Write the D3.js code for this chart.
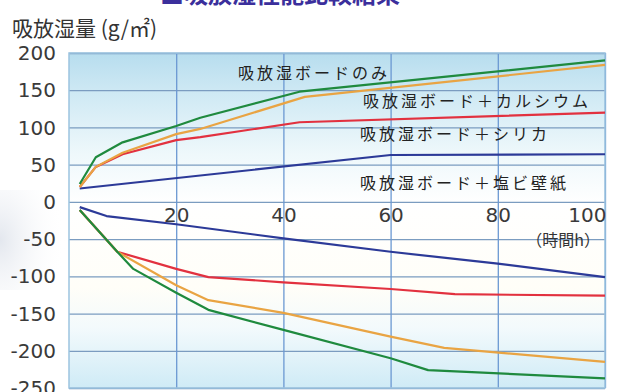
<!DOCTYPE html>
<html>
<head>
<meta charset="utf-8">
<script src="https://cdn.jsdelivr.net/npm/d3@7"></script>
<style>
  html, body { margin: 0; padding: 0; background: #ffffff; }
  svg { display: block; }
</style>
</head>
<body>
<svg id="chart" width="617" height="392"></svg>
<script>
// Hours elapsed vs. moisture absorbed (+) / released (-), g/m²
const timeTicks = [20, 40, 60, 80, 100];
const valueTicks = [200, 150, 100, 50, 0, -50, -100, -150, -200, -250];

const seriesNames = [
  "吸放湿ボードのみ",
  "吸放湿ボード＋カルシウム",
  "吸放湿ボード＋シリカ",
  "吸放湿ボード＋塩ビ壁紙"
];
const seriesColors = ["#1f8a3e", "#e9a443", "#e2313f", "#2c3a98"];

// absorption phase [hour, g/m²]
const boardOnlyAbs   = [[2, 24], [5, 60], [10, 80], [20, 102], [24.5, 113], [43, 148], [100, 190]];
const calciumAbs     = [[2, 20], [5, 47], [10, 66], [20, 91], [24.5, 98], [44, 141], [100, 184]];
const silicaAbs      = [[2, 20], [5, 47], [10, 64], [20, 83], [24.5, 87], [43, 107], [100, 120]];
const vinylAbs       = [[2, 18], [60, 63], [100, 64]];

// release phase [hour, g/m²]
const boardOnlyRel   = [[2, -11], [9, -67], [12, -90], [20, -122], [26, -145], [40, -172], [60, -210], [67, -226], [100, -237]];
const calciumRel     = [[2, -11], [9, -67], [20, -112], [26, -132], [40, -149], [60, -181], [70, -196], [100, -215]];
const silicaRel      = [[2, -11], [9, -67], [20, -90], [26, -101], [40, -108], [60, -117], [72, -124], [100, -126]];
const vinylRel       = [[2, -7], [7, -19], [20, -30], [40, -49], [60, -67], [80, -83], [100, -101]];

const absorption = [boardOnlyAbs, calciumAbs, silicaAbs, vinylAbs];
const release = [boardOnlyRel, calciumRel, silicaRel, vinylRel];

const svg = d3.select("#chart");
const plot = { left: 69, right: 605, top: 53, bottom: 388 };

const x = d3.scaleLinear().domain([0, 100]).range([plot.left, plot.right]);
const y = d3.scaleLinear().domain([-250, 200]).range([plot.bottom, plot.top]);

const defs = svg.append("defs");

// faint grey band behind the left labels
const side = defs.append("radialGradient").attr("id", "side")
  .attr("cx", "0%").attr("cy", "50%").attr("r", "100%");
side.append("stop").attr("offset", "0%").attr("stop-color", "#e3e7ee");
side.append("stop").attr("offset", "100%").attr("stop-color", "#ffffff").attr("stop-opacity", 0);
svg.append("rect").attr("x", 0).attr("y", 190).attr("width", 66).attr("height", 100).attr("fill", "url(#side)");

// plot background: pale blue at the top and bottom, near white in between
const bg = defs.append("linearGradient").attr("id", "plotBg").attr("x1", 0).attr("x2", 0).attr("y1", 0).attr("y2", 1);
[["0%", "#b7ddee"], ["12%", "#cfe9f4"], ["30%", "#eef8fb"], ["45%", "#ffffff"], ["70%", "#fffef8"], ["82%", "#f3fafc"], ["100%", "#cfebf6"]]
  .forEach(([o, c]) => bg.append("stop").attr("offset", o).attr("stop-color", c));

svg.append("rect")
  .attr("x", plot.left).attr("y", plot.top)
  .attr("width", plot.right - plot.left).attr("height", plot.bottom - plot.top)
  .attr("fill", "url(#plotBg)");

// horizontal grid
const yGrid = svg.append("g")
  .attr("transform", `translate(${plot.left},0)`)
  .call(d3.axisLeft(y).tickValues(valueTicks).tickSize(-(plot.right - plot.left)).tickFormat(""));
yGrid.select(".domain").remove();
yGrid.selectAll("line").attr("stroke", "#7b9cc0").attr("stroke-width", 1.3);

// vertical grid
const xGrid = svg.append("g")
  .attr("transform", `translate(0,${plot.bottom})`)
  .call(d3.axisBottom(x).tickValues(timeTicks).tickSize(-(plot.bottom - plot.top)).tickFormat(""));
xGrid.select(".domain").remove();
xGrid.selectAll("line").attr("stroke", "#6b98d2").attr("stroke-width", 1.3);

// frame
svg.append("rect")
  .attr("x", plot.left).attr("y", plot.top)
  .attr("width", plot.right - plot.left).attr("height", plot.bottom - plot.top)
  .attr("fill", "none").attr("stroke", "#9cc3df").attr("stroke-width", 1.5);

// value labels on the left (plain hyphen for negatives)
const yAxis = svg.append("g")
  .attr("transform", `translate(56,0)`)
  .call(d3.axisLeft(y).tickValues(valueTicks).tickSize(0).tickPadding(0).tickFormat(d => String(d)));
yAxis.select(".domain").remove();
yAxis.selectAll("text")
  .attr("font-family", "DejaVu Sans, sans-serif")
  .attr("font-size", 20)
  .attr("fill", "#3a3a3a")
  .attr("dy", "0.33em");

// hour labels along the zero line
const xAxis = svg.append("g")
  .attr("transform", `translate(0,${y(0)})`)
  .call(d3.axisBottom(x).tickValues(timeTicks).tickSize(0).tickPadding(0));
xAxis.select(".domain").remove();
xAxis.selectAll("text")
  .attr("font-family", "DejaVu Sans, sans-serif")
  .attr("font-size", 20)
  .attr("fill", "#3a3a3a")
  .attr("dy", "1.0em")
  .attr("text-anchor", d => d === 100 ? "end" : "middle")
  .attr("x", d => d === 100 ? 1 : 0);

// curves
const line = d3.line().x(d => x(d[0])).y(d => y(d[1]));
[3, 2, 1, 0].forEach(i => {
  [absorption[i], release[i]].forEach(pts => {
    svg.append("path")
      .attr("d", line(pts))
      .attr("fill", "none")
      .attr("stroke", seriesColors[i])
      .attr("stroke-width", 2.2)
      .attr("stroke-linejoin", "round");
  });
});

// series captions
const captionPos = [[238, 73], [363, 101], [360, 134], [360, 183]];
seriesNames.forEach((name, i) => {
  svg.append("text")
    .attr("x", captionPos[i][0])
    .attr("y", captionPos[i][1])
    .attr("dy", "0.36em")
    .attr("font-family", "Noto Sans CJK JP, sans-serif")
    .attr("font-size", 16)
    .attr("letter-spacing", 3)
    .attr("fill", "#222")
    .text(name);
});

// axis titles
svg.append("text")
  .attr("x", 600).attr("y", 240).attr("dy", "0.36em")
  .attr("text-anchor", "end")
  .attr("font-family", "Noto Sans CJK JP, sans-serif")
  .attr("font-size", 16)
  .attr("fill", "#333")
  .text("（時間h）");

svg.append("text")
  .attr("x", 12).attr("y", 28).attr("dy", "0.36em")
  .attr("font-family", "Noto Sans CJK JP, sans-serif")
  .attr("font-size", 21)
  .attr("fill", "#333")
  .text("吸放湿量 (g/㎡)");

// heading, running off the top edge
svg.append("text")
  .attr("x", 160).attr("y", 3)
  .attr("font-family", "Noto Sans CJK JP, sans-serif")
  .attr("font-size", 24)
  .attr("font-weight", "bold")
  .attr("fill", "#3b2f9c")
  .text("■吸放湿性能比較結果");
</script>
</body>
</html>
